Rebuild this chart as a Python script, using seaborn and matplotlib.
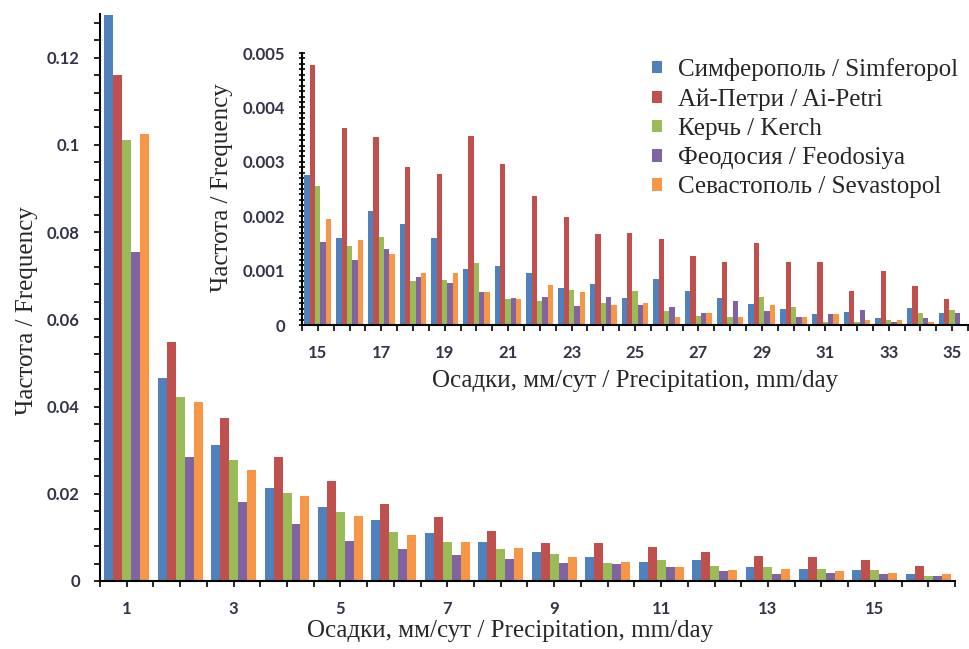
import numpy as np
import pandas as pd
import matplotlib
matplotlib.use('Agg')
import matplotlib.pyplot as plt
import seaborn as sns
from matplotlib.ticker import MultipleLocator, FuncFormatter

# stations and colours
stations = ['Симферополь / Simferopol', 'Ай-Петри / Ai-Petri', 'Керчь / Kerch',
            'Феодосия / Feodosiya', 'Севастополь / Sevastopol']
colors = ['#4F81BD', '#C0504D', '#9BBB59', '#8064A2', '#F79646']

# main chart, precipitation 1..16 mm/day
main_x = [str(i) for i in range(1, 17)]
main_simf = [0.1298, 0.0465, 0.0312, 0.0214, 0.0169, 0.0140, 0.0109, 0.0089,
             0.0067, 0.0054, 0.0044, 0.0048, 0.0031, 0.0028, 0.0025, 0.0016]
main_aipetri = [0.116, 0.0548, 0.0373, 0.0284, 0.0229, 0.0176, 0.0146, 0.0115,
                0.0086, 0.0086, 0.0079, 0.0067, 0.0057, 0.0054, 0.0048, 0.0035]
main_kerch = [0.101, 0.0423, 0.0278, 0.0201, 0.0159, 0.0112, 0.0089, 0.0073,
              0.0063, 0.0042, 0.0048, 0.0035, 0.0031, 0.0028, 0.0025, 0.0012]
main_feod = [0.0755, 0.0284, 0.0182, 0.0131, 0.0092, 0.0073, 0.0060, 0.0051,
             0.0041, 0.0038, 0.0031, 0.0023, 0.0016, 0.0019, 0.0016, 0.0012]
main_sevas = [0.1025, 0.0411, 0.0255, 0.0195, 0.0150, 0.0106, 0.0089, 0.0076,
              0.0054, 0.0044, 0.0031, 0.0025, 0.0028, 0.0023, 0.0019, 0.0016]

# inset chart, precipitation 15..35 mm/day
inset_x = [str(i) for i in range(15, 36)]
inset_simf = [0.00276, 0.00160, 0.00209, 0.00185, 0.00160, 0.00103, 0.00109,
              0.00096, 0.00068, 0.00075, 0.00049, 0.00085, 0.00063, 0.00050,
              0.00039, 0.00030, 0.00020, 0.00024, 0.00012, 0.00032, 0.00022]
inset_aipetri = [0.00478, 0.00363, 0.00346, 0.00291, 0.00278, 0.00348, 0.00296,
                 0.00238, 0.00199, 0.00168, 0.00170, 0.00158, 0.00127, 0.00116,
                 0.00151, 0.00116, 0.00116, 0.00063, 0.00100, 0.00071, 0.00048]
inset_kerch = [0.00255, 0.00145, 0.00162, 0.00080, 0.00083, 0.00114, 0.00048,
               0.00044, 0.00065, 0.00041, 0.00062, 0.00026, 0.00017, 0.00015,
               0.00052, 0.00033, 0.00006, 0.00006, 0.00010, 0.00022, 0.00027]
inset_feod = [0.00152, 0.00119, 0.00140, 0.00088, 0.00077, 0.00060, 0.00049,
              0.00052, 0.00035, 0.00051, 0.00037, 0.00033, 0.00022, 0.00044,
              0.00025, 0.00015, 0.00021, 0.00027, 0.00005, 0.00013, 0.00022]
inset_sevas = [0.00194, 0.00157, 0.00131, 0.00096, 0.00096, 0.00060, 0.00048,
               0.00073, 0.00060, 0.00036, 0.00041, 0.00015, 0.00022, 0.00015,
               0.00036, 0.00015, 0.00021, 0.00009, 0.00010, 0.00005, 0.0]


def to_long(x, series):
    df = pd.DataFrame({'precip': x})
    for name, vals in zip(stations, series):
        df[name] = vals
    return df.melt(id_vars='precip', var_name='station', value_name='freq')


main_df = to_long(main_x, [main_simf, main_aipetri, main_kerch, main_feod, main_sevas])
inset_df = to_long(inset_x, [inset_simf, inset_aipetri, inset_kerch, inset_feod, inset_sevas])

sns.set_style('white')
plt.rcParams['font.family'] = ['Liberation Serif', 'DejaVu Serif']

tick_color = '#333348'
label_size = 18
fmt = FuncFormatter(lambda v, p: '{:g}'.format(round(v, 6)))


def style_axis(ax, labels, ytick_dir):
    n = len(labels)
    for s in ['top', 'right']:
        ax.spines[s].set_visible(False)
    for s in ['left', 'bottom']:
        ax.spines[s].set_linewidth(1.5)
        ax.spines[s].set_color('black')
    ax.set_xticks(range(n))
    ax.set_xticklabels([lab if i % 2 == 0 else '' for i, lab in enumerate(labels)])
    ax.set_xticks(np.arange(-0.5, n, 1), minor=True)
    ax.tick_params(axis='x', which='both', direction='out', length=4.5, width=1.2,
                   color='black', bottom=True)
    ax.tick_params(axis='y', which='both', direction=ytick_dir, length=4.5, width=1.2,
                   color='black', left=True)
    ax.tick_params(axis='x', which='major', pad=10)
    ax.yaxis.set_major_formatter(fmt)
    for lab in ax.get_xticklabels() + ax.get_yticklabels():
        lab.set_fontfamily('Lato')
        lab.set_fontweight('bold')
        lab.set_fontsize(12)
        lab.set_color(tick_color)
    ax.set_xlim(-0.5, n - 0.5)


fig = plt.figure(figsize=(9.7, 6.49), dpi=100)

ax = fig.add_axes([0.1031, 0.1048, 0.8814, 0.8736])
sns.barplot(data=main_df, x='precip', y='freq', hue='station', order=main_x,
            hue_order=stations, palette=colors, saturation=1, width=0.84,
            linewidth=0, errorbar=None, legend=False, ax=ax)
ax.set_ylim(0, 0.13)
ax.yaxis.set_major_locator(MultipleLocator(0.02))
ax.yaxis.set_minor_locator(MultipleLocator(0.004))

ax2 = fig.add_axes([0.3113, 0.4992, 0.6866, 0.4191])
ax2.set_facecolor('white')
sns.barplot(data=inset_df, x='precip', y='freq', hue='station', order=inset_x,
            hue_order=stations, palette=colors, saturation=1, width=0.84,
            linewidth=0, errorbar=None, ax=ax2)
ax2.set_ylim(0, 0.005)
ax2.yaxis.set_major_locator(MultipleLocator(0.001))
ax2.yaxis.set_minor_locator(MultipleLocator(0.0001))

style_axis(ax, main_x, 'out')
style_axis(ax2, inset_x, 'inout')
ax.tick_params(axis='y', which='major', pad=10)
ax2.tick_params(axis='y', which='major', pad=10)

xlabel = 'Осадки, мм/сут / Precipitation, mm/day'
ylabel = 'Частота / Frequency'
ax.set_xlabel(xlabel, fontsize=label_size)
ax.set_ylabel(ylabel, fontsize=label_size)
ax.xaxis.set_label_coords(0.48, -0.068)
ax.yaxis.set_label_coords(-0.073, 0.476)
ax2.set_xlabel(xlabel, fontsize=label_size)
ax2.set_ylabel(ylabel, fontsize=label_size)
ax2.xaxis.set_label_coords(0.50, -0.165)
ax2.yaxis.set_label_coords(-0.1035, 0.504)

handles, labels = ax2.get_legend_handles_labels()
ax2.legend_.remove()
fig.legend(handles, labels, loc='upper left', bbox_to_anchor=(652 / 970, 1 - 58 / 649),
           frameon=False, prop={'family': 'Liberation Serif', 'size': label_size},
           handlelength=0.4, handleheight=0.4, handletextpad=0.65,
           labelspacing=0.29, borderaxespad=0, borderpad=0)

fig.savefig('out.png', dpi=100)
